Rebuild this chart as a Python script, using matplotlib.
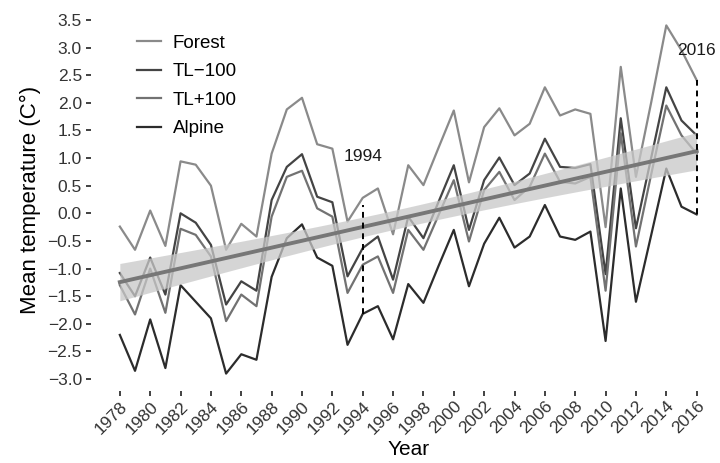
import matplotlib
matplotlib.use('Agg')
import matplotlib.pyplot as plt
import numpy as np

plt.rcParams['font.family'] = ['Liberation Sans', 'DejaVu Sans']

years = list(range(1978, 2017))

forest = [-0.24, -0.66, 0.05, -0.59, 0.94, 0.88, 0.5, -0.66, -0.19, -0.42,
          1.08, 1.88, 2.09, 1.25, 1.17, -0.15, 0.28, 0.45, -0.38, 0.87,
          0.51, 1.19, 1.86, 0.56, 1.56, 1.9, 1.41, 1.62, 2.28, 1.77,
          1.88, 1.8, -0.25, 2.65, 0.66, 2.0, 3.4, 2.95, 2.41]
tl_minus = [-1.08, -1.5, -0.8, -1.47, 0.0, -0.17, -0.57, -1.65, -1.23, -1.4,
            0.24, 0.84, 1.07, 0.3, 0.2, -1.14, -0.63, -0.42, -1.2, -0.06,
            -0.45, 0.21, 0.87, -0.3, 0.6, 1.01, 0.51, 0.72, 1.35, 0.84,
            0.82, 0.89, -1.1, 1.72, -0.27, 1.0, 2.28, 1.68, 1.41]
tl_plus = [-1.3, -1.83, -1.0, -1.8, -0.28, -0.39, -0.78, -1.95, -1.47, -1.68,
           -0.06, 0.66, 0.77, 0.09, -0.06, -1.44, -0.93, -0.78, -1.44, -0.3,
           -0.66, -0.03, 0.6, -0.51, 0.42, 0.75, 0.24, 0.48, 1.08, 0.57,
           0.54, 0.66, -1.4, 1.45, -0.6, 0.7, 1.95, 1.41, 1.08]
alpine = [-2.2, -2.85, -1.92, -2.8, -1.3, -1.6, -1.9, -2.9, -2.55, -2.65,
          -1.15, -0.45, -0.2, -0.8, -0.95, -2.38, -1.82, -1.68, -2.28, -1.28,
          -1.62, -0.95, -0.3, -1.32, -0.55, -0.08, -0.62, -0.42, 0.15, -0.42,
          -0.48, -0.33, -2.31, 0.45, -1.6, -0.4, 0.81, 0.12, -0.02]

series_names = ['Forest', 'TL\u2212100', 'TL+100', 'Alpine']
series_colors = ['#8a8a8a', '#444444', '#727272', '#2c2c2c']

# marked years (dashed segments + labels)
mark_years = [1994, 2016]
mark_top = [0.15, 2.41]
mark_bottom = [-1.82, -0.02]
mark_label_y = [1.02, 2.95]

fig = plt.figure(figsize=(7.2, 4.63), dpi=100)
ax = fig.add_axes([91 / 720, (463 - 391) / 463, 634.5 / 720, 383 / 463])

all_series = [forest, tl_minus, tl_plus, alpine]
for vals, name, col in zip(all_series, series_names, series_colors):
    ax.plot(years, vals, color=col, lw=1.6, label=name)

# pooled linear fit with 95% CI (like geom_smooth(method='lm'))
x = np.tile(np.array(years, dtype=float), 4)
y = np.concatenate([np.array(s) for s in all_series])
b, a = np.polyfit(x, y, 1)
resid = y - (a + b * x)
n = len(x)
s = np.sqrt(np.sum(resid ** 2) / (n - 2))
xs = np.linspace(years[0], years[-1], 200)
se = s * np.sqrt(1 / n + (xs - x.mean()) ** 2 / np.sum((x - x.mean()) ** 2))
fit = a + b * xs
ax.fill_between(xs, fit - 1.975 * se, fit + 1.975 * se, color='#c8c8c8', alpha=0.75, lw=0, zorder=3)
ax.plot(xs, fit, color='#777777', lw=2.8, zorder=4)

for yr, top, bot, ly in zip(mark_years, mark_top, mark_bottom, mark_label_y):
    ax.plot([yr, yr], [bot, top], color='black', ls=(0, (3, 2.5)), lw=1.4, zorder=5)
    ax.text(yr, ly, str(yr), ha='center', va='center', fontsize=12.5, color='#1a1a1a')

ax.set_xlim(1976.1, 2017.9)
ax.set_ylim(-3.215, 3.715)
ax.set_xticks(years[::2])
ax.set_xticklabels([str(v) for v in years[::2]], rotation=45, ha='right', rotation_mode='anchor')
yt = np.arange(-3.0, 3.51, 0.5)
ax.set_yticks(yt)
ax.set_yticklabels([f'{v:.1f}'.replace('-', '\u2212') for v in yt])
ax.tick_params(axis='both', labelsize=12.5, colors='#333333', length=3.5, width=1.3, pad=3)
ax.tick_params(axis='x', pad=2)
for sp in ax.spines.values():
    sp.set_visible(False)

ax.set_xlabel('Year', fontsize=15, labelpad=2)
ax.set_ylabel('Mean temperature (C\u00b0)', fontsize=16, labelpad=5)

ax.legend(loc='upper left', bbox_to_anchor=(120 / 720, 1 - 18 / 463), bbox_transform=fig.transFigure,
          frameon=False, fontsize=13.5, handlelength=1.3, handletextpad=0.6, labelspacing=0.6)

fig.savefig('out.png', dpi=100)
